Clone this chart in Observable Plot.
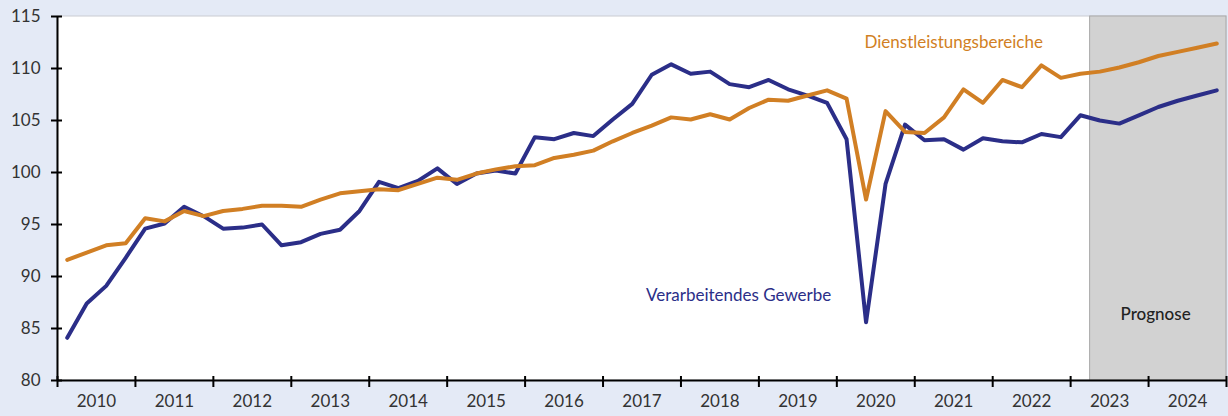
<!DOCTYPE html>
<html><head><meta charset="utf-8">
<script src="https://cdn.jsdelivr.net/npm/d3@7"></script>
<script src="https://cdn.jsdelivr.net/npm/@observablehq/plot@0.6"></script>
<style>
html,body{margin:0;padding:0;background:#e4eaf6;}
#chart svg{display:block;}
</style></head><body><div id="chart"></div>
<script>
const startYear = 2010;
const endYear = 2025;
const yearLabels = [2010,2011,2012,2013,2014,2015,2016,2017,2018,2019,2020,2021,2022,2023,2024];
const yTicks = [80,85,90,95,100,105,110,115];
const forecastStart = 2023.25; // ab 2. Quartal 2023

const verarbeitendesGewerbe = [
  84.1, 87.4, 89.1, 91.8,  94.6, 95.1, 96.7, 95.8,  94.6, 94.7, 95.0, 93.0,
  93.3, 94.1, 94.5, 96.3,  99.1, 98.5, 99.2, 100.4, 98.9, 99.9, 100.2, 99.9,
  103.4, 103.2, 103.8, 103.5, 105.1, 106.6, 109.4, 110.4, 109.5, 109.7, 108.5, 108.2,
  108.9, 108.0, 107.4, 106.7, 103.2, 85.6, 98.9, 104.6, 103.1, 103.2, 102.2, 103.3,
  103.0, 102.9, 103.7, 103.4, 105.5, 105.0, 104.7, 105.5, 106.3, 106.9, 107.4, 107.9
];
const dienstleistungsbereiche = [
  91.6, 92.3, 93.0, 93.2,  95.6, 95.3, 96.3, 95.8,  96.3, 96.5, 96.8, 96.8,
  96.7, 97.4, 98.0, 98.2,  98.4, 98.3, 98.9, 99.5,  99.3, 99.9, 100.3, 100.6,
  100.7, 101.4, 101.7, 102.1, 103.0, 103.8, 104.5, 105.3, 105.1, 105.6, 105.1, 106.2,
  107.0, 106.9, 107.4, 107.9, 107.1, 97.4, 105.9, 103.9, 103.8, 105.3, 108.0, 106.7,
  108.9, 108.2, 110.3, 109.1, 109.5, 109.7, 110.1, 110.6, 111.2, 111.6, 112.0, 112.4
];

const seriesNames = ["Verarbeitendes Gewerbe", "Dienstleistungsbereiche"];
const seriesColors = ["#2b2e88", "#d17f24"];
const labelX = [2018.74, 2021.5];
const labelY = [88.2, 112.5];
const prognoseLabel = {text: "Prognose", x: 2024.09, y: 86.3};

const toRows = (vals, name) => vals.map((v, i) => ({t: startYear + (i + 0.5) / 4, v, name}));
const rows = [
  ...toRows(verarbeitendesGewerbe, seriesNames[0]),
  ...toRows(dienstleistungsbereiche, seriesNames[1])
];
const labels = seriesNames.map((n, i) => ({name: n, x: labelX[i], y: labelY[i]}));
const yearBounds = d3.range(startYear, endYear + 1);

const chart = Plot.plot({
  width: 1228,
  height: 416,
  marginLeft: 57,
  marginRight: 2,
  marginTop: 16,
  marginBottom: 36,
  style: {fontFamily: "Lato, sans-serif", fontSize: "17px", background: "#e4eaf6", color: "#333"},
  x: {domain: [startYear, endYear], axis: null},
  y: {domain: [80, 115], axis: null},
  color: {domain: seriesNames, range: seriesColors},
  marks: [
    Plot.rect([{}], {x1: startYear, x2: endYear, y1: 80, y2: 115, fill: "white", stroke: "#c9ccd2", strokeWidth: 1}),
    Plot.rect([{}], {x1: forecastStart, x2: endYear, y1: 80, y2: 115, fill: "#d2d2d2", stroke: "#a9a9a9", strokeWidth: 1}),
    Plot.line(rows, {x: "t", y: "v", z: "name", stroke: "name", strokeWidth: 4, strokeLinejoin: "round"}),
    Plot.text(labels, {x: "x", y: "y", text: "name", fill: (d) => seriesColors[seriesNames.indexOf(d.name)], fontSize: 17}),
    Plot.text([prognoseLabel], {x: "x", y: "y", text: "text", fill: "#222", fontSize: 17, fontWeight: 500}),
    // axis lines
    Plot.ruleX([startYear], {y1: 80, y2: 115, stroke: "black", strokeWidth: 2}),
    Plot.ruleY([80], {x1: startYear, x2: endYear, stroke: "black", strokeWidth: 2}),
    // y ticks crossing the axis
    Plot.axisY(yTicks, {tickSize: 11, dx: 5, text: null, stroke: "black", strokeWidth: 2}),
    Plot.axisY(yTicks, {tickSize: 0, tickPadding: 17, fill: "#333", fontSize: 17}),
    // x ticks at year boundaries
    Plot.axisX(yearBounds, {tickSize: 11, dy: -4, text: null, stroke: "black", strokeWidth: 2}),
    Plot.axisX(yearLabels.map((y) => y + 0.5), {tickSize: 0, tickPadding: 14, tickFormat: (d) => String(Math.floor(d)), fill: "#333", fontSize: 17})
  ]
});
document.getElementById("chart").append(chart);
</script>
</body></html>
